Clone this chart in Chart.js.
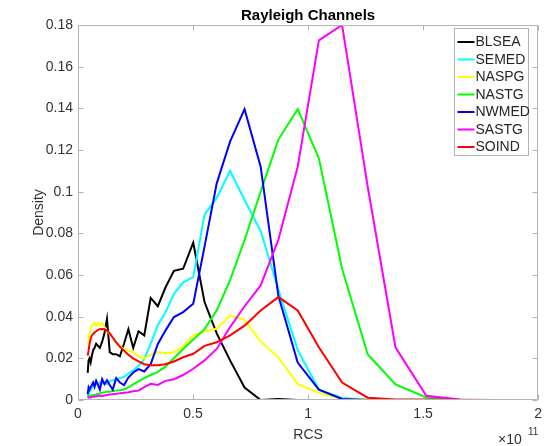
<!DOCTYPE html>
<html>
<head>
<meta charset="utf-8">
<script src="https://cdn.jsdelivr.net/npm/chart.js@4.4.1/dist/chart.umd.min.js"></script>
<style>
  html, body { margin: 0; padding: 0; background: #fff; }
</style>
</head>
<body>
<canvas id="chart" width="548" height="446"></canvas>
<script>
// bin centres (RCS, in units of 1e11), log spaced
const rcs = [0.042, 0.046, 0.050, 0.055, 0.060, 0.066, 0.072, 0.079, 0.087, 0.095,
             0.105, 0.115, 0.126, 0.138, 0.151, 0.166, 0.182, 0.200, 0.219, 0.240,
             0.263, 0.288, 0.316, 0.347, 0.380, 0.417, 0.457, 0.501, 0.550, 0.603,
             0.661, 0.724, 0.794, 0.871, 0.955, 1.047, 1.148, 1.259, 1.380, 1.514,
             1.660, 1.820];

const blsea = [0.013, 0.019, 0.020, 0.018, 0.021, 0.024, 0.025, 0.027, 0.026, 0.025,
               0.028, 0.032, 0.039, 0.023, 0.022, 0.022, 0.021, 0.027, 0.034, 0.025,
               0.033, 0.031, 0.049, 0.045, 0.054, 0.062, 0.063, 0.0755, 0.047, 0.032,
               0.019, 0.006, 0, 0.0005, 0, 0, 0, null, null, null,
               null, null];
const semed = [0.001, 0.0027, 0.004, 0.0047, 0.0056, 0.0068, 0.0072, 0.0079, 0.0076, 0.0084,
               0.0084, 0.008, 0.0076, 0.0092, 0.0095, 0.010, 0.0105, 0.011, 0.0127, 0.0143,
               0.0164, 0.0196, 0.027, 0.036, 0.042, 0.051, 0.0565, 0.059, 0.089, 0.097,
               0.110, 0.096, 0.081, 0.053, 0.024, 0.005, 0.001, 0.0002, 0, 0,
               null, null];
const naspg = [0.027, 0.029, 0.032, 0.034, 0.0357, 0.036, 0.037, 0.0357, 0.0369, 0.036,
               0.037, 0.035, 0.033, 0.0317, 0.030, 0.0277, 0.0256, 0.0245, 0.0237, 0.0229,
               0.021, 0.020, 0.0215, 0.023, 0.0225, 0.0229, 0.0258, 0.031, 0.033, 0.0342,
               0.0406, 0.0385, 0.028, 0.0204, 0.0076, 0.0035, 0.0005, 0.0001, 0, null,
               null, null];
const nastg = [0.0014, 0.0018, 0.002, 0.002, 0.0022, 0.0024, 0.0025, 0.0027, 0.003, 0.003,
               0.0035, 0.0037, 0.004, 0.004, 0.0043, 0.0045, 0.0047, 0.005, 0.006, 0.0075,
               0.009, 0.0105, 0.012, 0.0135, 0.016, 0.020, 0.0245, 0.029, 0.034, 0.043,
               0.0575, 0.0768, 0.100, 0.125, 0.1396, 0.116, 0.063, 0.022, 0.0075, 0.0012,
               0, null];
const nwmed = [0.0027, 0.006, 0.005, 0.0063, 0.0072, 0.0084, 0.0063, 0.0092, 0.0072, 0.005,
               0.010, 0.0076, 0.0095, 0.0072, 0.005, 0.0105, 0.0084, 0.0072, 0.0108, 0.0132,
               0.0148, 0.0137, 0.0172, 0.0269, 0.0333, 0.0398, 0.0422, 0.0462, 0.0736, 0.104,
               0.124, 0.1396, 0.112, 0.050, 0.018, 0.005, 0.0005, 0, 0, 0,
               null, null];
const sastg = [0.001, 0.0012, 0.0013, 0.0012, 0.0015, 0.0016, 0.0017, 0.0018, 0.002, 0.002,
               0.0019, 0.0022, 0.0024, 0.0026, 0.0028, 0.003, 0.0032, 0.0035, 0.0037, 0.0042,
               0.0045, 0.0062, 0.0078, 0.0072, 0.0092, 0.010, 0.012, 0.015, 0.019, 0.0245,
               0.035, 0.045, 0.055, 0.077, 0.112, 0.1726, 0.180, 0.1026, 0.0253, 0.002,
               0.0002, null];
const soind = [0.0213, 0.0237, 0.0269, 0.0293, 0.031, 0.0317, 0.0324, 0.033, 0.0337, 0.034,
               0.0341, 0.034, 0.0333, 0.032, 0.030, 0.0277, 0.0256, 0.0237, 0.0217, 0.020,
               0.0185, 0.0172, 0.0167, 0.0167, 0.0172, 0.0185, 0.0205, 0.0222, 0.026, 0.0277,
               0.031, 0.0357, 0.043, 0.0494, 0.043, 0.0253, 0.0084, 0.0011, 0.0003, 0.0002,
               0.0001, 0];

const names = ["BLSEA", "SEMED", "NASPG", "NASTG", "NWMED", "SASTG", "SOIND"];
const series = [blsea, semed, naspg, nastg, nwmed, sastg, soind];
const colors = ["#000000", "#00ffff", "#ffff00", "#00ff00", "#0000ff", "#ff00ff", "#ff0000"];

const xTicks = [0, 0.5, 1, 1.5, 2];

const FONT = "'Liberation Sans', Arial, Helvetica, sans-serif";
const AXIS_GREY = "#b4b4b4";
const TEXT_GREY = "#333333";

function toPoints(vals) {
    const pts = [];
    vals.forEach((v, i) => { if (v !== null) pts.push({ x: rcs[i], y: v }); });
    return pts;
}

// box, inward ticks, legend and the x10^11 exponent, drawn MATLAB style
const frame = {
    id: "frame",
    afterDraw(chart) {
        const { ctx, chartArea: a, scales } = chart;
        const L = Math.round(a.left) + 0.5, R = Math.round(a.right) - 0.5;
        const T = Math.round(a.top) + 0.5, B = Math.round(a.bottom) - 0.5;
        ctx.save();
        ctx.strokeStyle = AXIS_GREY;
        ctx.lineWidth = 1;
        ctx.strokeRect(L, T, R - L, B - T);

        ctx.beginPath();
        scales.x.ticks.forEach(t => {
            const px = Math.round(scales.x.getPixelForValue(t.value)) + 0.5;
            ctx.moveTo(px, B); ctx.lineTo(px, B - 5);
            ctx.moveTo(px, T); ctx.lineTo(px, T + 5);
        });
        scales.y.ticks.forEach(t => {
            const py = Math.round(scales.y.getPixelForValue(t.value)) + 0.5;
            ctx.moveTo(L, py); ctx.lineTo(L + 5, py);
            ctx.moveTo(R, py); ctx.lineTo(R - 5, py);
        });
        ctx.stroke();

        // legend
        const bx = Math.round(a.right) - 83.5, by = Math.round(a.top) + 3.5;
        const bw = 74, bh = 127;
        ctx.fillStyle = "#ffffff";
        ctx.fillRect(bx, by, bw, bh);
        ctx.strokeStyle = AXIS_GREY;
        ctx.strokeRect(bx, by, bw, bh);
        ctx.font = "14px " + FONT;
        ctx.textBaseline = "middle";
        ctx.textAlign = "left";
        chart.data.datasets.forEach((ds, i) => {
            const y = by + 13.5 + i * 17.5;
            ctx.strokeStyle = ds.borderColor;
            ctx.lineWidth = 2;
            ctx.beginPath();
            ctx.moveTo(bx + 3, y); ctx.lineTo(bx + 20, y);
            ctx.stroke();
            ctx.fillStyle = "#262626";
            ctx.fillText(ds.label, bx + 21, y + 0.5);
        });

        // exponent
        ctx.fillStyle = TEXT_GREY;
        ctx.textBaseline = "alphabetic";
        ctx.font = "14px " + FONT;
        ctx.fillText("\u00d710", 498, 444);
        ctx.font = "10px " + FONT;
        ctx.fillText("11", 528, 435);
        ctx.restore();
    }
};

new Chart(document.getElementById("chart"), {
    type: "line",
    data: {
        datasets: series.map((vals, i) => ({
            label: names[i],
            data: toPoints(vals),
            borderColor: colors[i],
            backgroundColor: colors[i],
            borderWidth: 2,
            pointRadius: 0,
            tension: 0,
            fill: false,
            order: series.length - i
        }))
    },
    options: {
        responsive: false,
        animation: false,
        layout: { padding: { left: 0, right: 8, top: 0, bottom: 0 } },
        plugins: {
            legend: { display: false },
            tooltip: { enabled: false },
            title: {
                display: true,
                text: "Rayleigh Channels",
                fullSize: false,
                color: "#000",
                font: { family: FONT, size: 15, weight: "bold" },
                padding: { top: 7, bottom: 0 }
            }
        },
        scales: {
            x: {
                type: "linear",
                min: 0,
                max: 2,
                afterBuildTicks: s => { s.ticks = xTicks.map(v => ({ value: v })); },
                afterFit: s => { s.height = 46; },
                grid: { display: false, drawTicks: false },
                border: { display: false },
                ticks: {
                    color: TEXT_GREY,
                    font: { family: FONT, size: 14 },
                    padding: 6,
                    maxRotation: 0,
                    callback: v => String(v)
                },
                title: {
                    display: true,
                    text: "RCS",
                    color: TEXT_GREY,
                    font: { family: FONT, size: 14 },
                    padding: { top: 0, bottom: 2 }
                }
            },
            y: {
                min: 0,
                max: 0.18,
                afterFit: s => { s.width = 78; },
                grid: { display: false, drawTicks: false },
                border: { display: false },
                ticks: {
                    stepSize: 0.02,
                    color: TEXT_GREY,
                    font: { family: FONT, size: 14 },
                    padding: 5,
                    callback: v => String(Number(v.toFixed(2)))
                },
                title: {
                    display: true,
                    text: "Density",
                    color: TEXT_GREY,
                    font: { family: FONT, size: 14 },
                    padding: { top: 31, bottom: 0 }
                }
            }
        }
    },
    plugins: [frame]
});
</script>
</body>
</html>
